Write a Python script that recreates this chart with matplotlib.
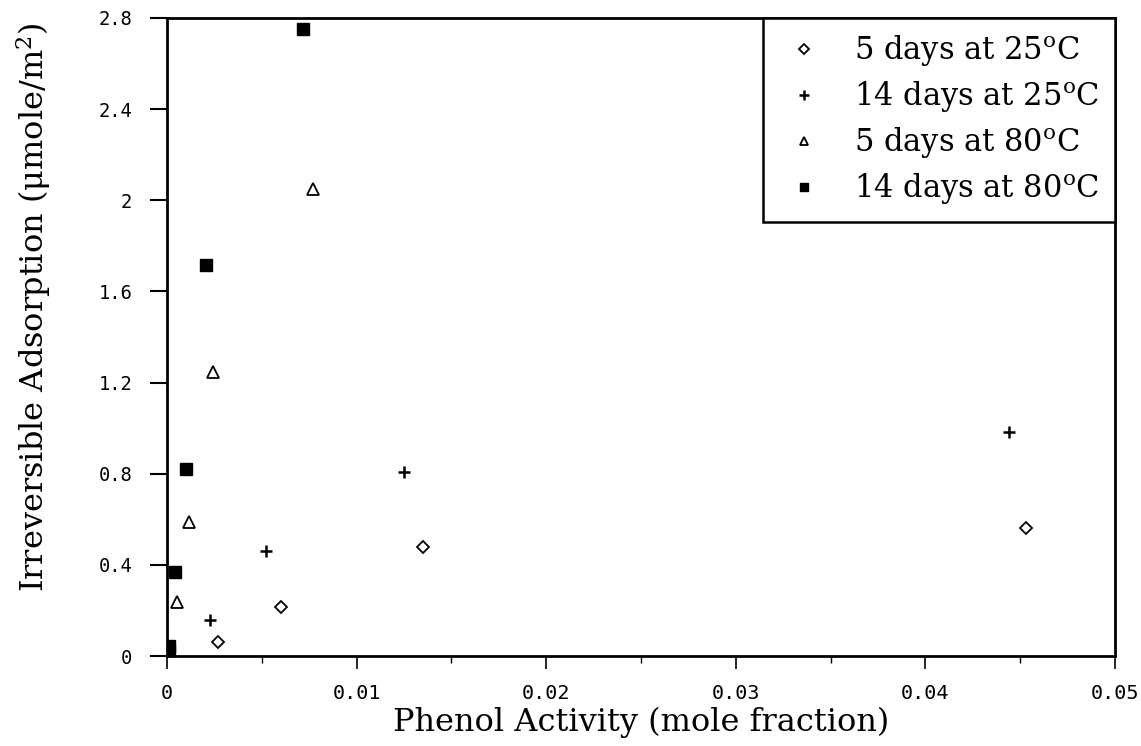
"""Irreversible phenol adsorption vs. phenol activity."""

import matplotlib
matplotlib.use("Agg")
import matplotlib.pyplot as plt

# 5 days at 25 C
x_5d25 = [0.00269, 0.00601, 0.0135, 0.0453]
y_5d25 = [0.061, 0.215, 0.478, 0.562]
# 14 days at 25 C
x_14d25 = [0.00227, 0.00522, 0.0125, 0.0444]
y_14d25 = [0.158, 0.461, 0.807, 0.983]
# 5 days at 80 C
x_5d80 = [0.00053, 0.00116, 0.00243, 0.0077]
y_5d80 = [0.237, 0.59, 1.246, 2.05]
# 14 days at 80 C
x_14d80 = [0.0001, 0.0001, 0.0004, 0.001, 0.00206, 0.00717]
y_14d80 = [0.045, 0.02, 0.369, 0.82, 1.716, 2.751]

labels = ["5 days at 25$^{\\rm o}$C", "14 days at 25$^{\\rm o}$C",
          "5 days at 80$^{\\rm o}$C", "14 days at 80$^{\\rm o}$C"]
xticks = [0, 0.01, 0.02, 0.03, 0.04, 0.05]
xtick_labels = ["0", "0.01", "0.02", "0.03", "0.04", "0.05"]
xminor = [0.005, 0.015, 0.025, 0.035, 0.045]
yticks = [0, 0.4, 0.8, 1.2, 1.6, 2.0, 2.4, 2.8]
ytick_labels = ["0", "0.4", "0.8", "1.2", "1.6", "2", "2.4", "2.8"]

plt.rcParams["mathtext.fontset"] = "dejavuserif"

fig = plt.figure(figsize=(11.41, 7.46), dpi=100)
ax = fig.add_axes([0.1464, 0.1206, 0.8308, 0.8553])

ax.plot(x_5d25, y_5d25, linestyle="none", marker="D", markersize=6.5,
        markerfacecolor="white", markeredgecolor="black", markeredgewidth=1.3,
        label=labels[0])
ax.plot(x_14d25, y_14d25, linestyle="none", marker="+", markersize=9,
        color="black", markeredgewidth=1.8, label=labels[1])
ax.plot(x_5d80, y_5d80, linestyle="none", marker="^", markersize=8,
        markerfacecolor="white", markeredgecolor="black", markeredgewidth=1.3,
        label=labels[2])
ax.plot(x_14d80, y_14d80, linestyle="none", marker="s", markersize=8,
        color="black", label=labels[3])

ax.set_xlim(0, 0.05)
ax.set_ylim(0, 2.8)
ax.set_xticks(xticks, xtick_labels)
ax.set_xticks(xminor, minor=True)
ax.set_yticks(yticks, ytick_labels)

for s in ax.spines.values():
    s.set_linewidth(2)
ax.tick_params(axis="y", direction="out", length=12, width=1.5, labelsize=13.5,
               pad=13, labelfontfamily="DejaVu Sans Mono")
ax.tick_params(axis="x", which="major", direction="out", length=9, width=1.2,
               labelsize=14.5, pad=11, labelfontfamily="DejaVu Sans Mono")
ax.tick_params(axis="x", which="minor", direction="out", length=5, width=1.0)

serif = ["DejaVu Serif"]
ax.set_xlabel("Phenol Activity (mole fraction)", fontsize=23, family=serif, labelpad=3)
ax.set_ylabel("Irreversible Adsorption (μmole/m$^2$)", fontsize=23, family=serif)
ax.yaxis.set_label_coords(-0.12, 0.547)

leg = ax.legend(loc="upper right", prop={"family": "DejaVu Serif", "size": 22},
                fancybox=False, edgecolor="black", framealpha=1, borderaxespad=0,
                handlelength=1.7, handletextpad=0.8, labelspacing=0.36,
                borderpad=0.5, markerscale=0.8)
leg.get_frame().set_linewidth(1.8)

plt.savefig("out.png", dpi=100)
plt.close()
